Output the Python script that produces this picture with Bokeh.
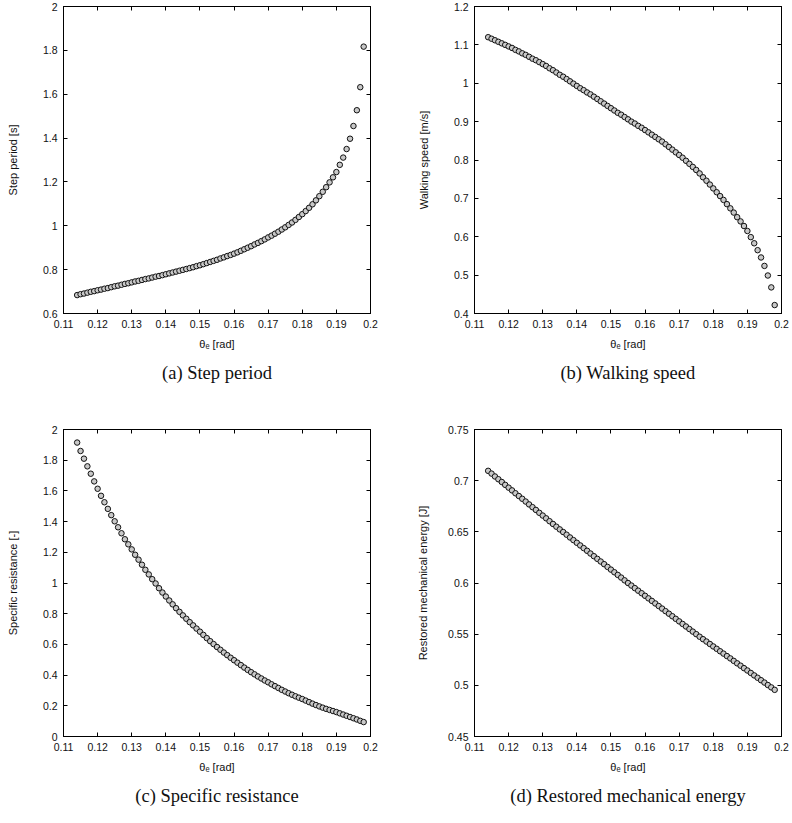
from bokeh.plotting import figure
from bokeh.models import Range1d, FixedTicker, LinearAxis, Title, CustomJSTickFormatter
from bokeh.layouts import column, row
from bokeh.embed import file_html
from bokeh.resources import INLINE

# ---------------- data ----------------
theta_e = [0.114, 0.115, 0.116, 0.117, 0.118, 0.119, 0.120, 0.121, 0.122, 0.123,
           0.124, 0.125, 0.126, 0.127, 0.128, 0.129, 0.130, 0.131, 0.132, 0.133,
           0.134, 0.135, 0.136, 0.137, 0.138, 0.139, 0.140, 0.141, 0.142, 0.143,
           0.144, 0.145, 0.146, 0.147, 0.148, 0.149, 0.150, 0.151, 0.152, 0.153,
           0.154, 0.155, 0.156, 0.157, 0.158, 0.159, 0.160, 0.161, 0.162, 0.163,
           0.164, 0.165, 0.166, 0.167, 0.168, 0.169, 0.170, 0.171, 0.172, 0.173,
           0.174, 0.175, 0.176, 0.177, 0.178, 0.179, 0.180, 0.181, 0.182, 0.183,
           0.184, 0.185, 0.186, 0.187, 0.188, 0.189, 0.190, 0.191, 0.192, 0.193,
           0.194, 0.195, 0.196, 0.197, 0.198]

step_period = [0.684, 0.688, 0.691, 0.695, 0.699, 0.702, 0.706, 0.709, 0.713, 0.716,
               0.720, 0.724, 0.727, 0.731, 0.735, 0.738, 0.742, 0.746, 0.749, 0.753,
               0.757, 0.760, 0.764, 0.768, 0.771, 0.775, 0.779, 0.783, 0.787, 0.791,
               0.795, 0.799, 0.803, 0.807, 0.811, 0.816, 0.820, 0.825, 0.830, 0.835,
               0.840, 0.845, 0.851, 0.856, 0.862, 0.867, 0.873, 0.879, 0.886, 0.893,
               0.900, 0.907, 0.915, 0.922, 0.930, 0.938, 0.947, 0.955, 0.964, 0.973,
               0.983, 0.993, 1.004, 1.015, 1.027, 1.040, 1.053, 1.067, 1.082, 1.098,
               1.116, 1.135, 1.155, 1.176, 1.198, 1.221, 1.245, 1.278, 1.311, 1.350,
               1.397, 1.455, 1.527, 1.632, 1.817]

walking_speed = [1.120, 1.116, 1.112, 1.108, 1.104, 1.100, 1.096, 1.092, 1.087, 1.083,
                 1.078, 1.074, 1.069, 1.064, 1.060, 1.055, 1.050, 1.045, 1.039, 1.034,
                 1.028, 1.022, 1.017, 1.011, 1.005, 0.999, 0.993, 0.987, 0.982, 0.976,
                 0.971, 0.965, 0.959, 0.953, 0.947, 0.941, 0.935, 0.929, 0.923, 0.918,
                 0.912, 0.906, 0.900, 0.895, 0.889, 0.884, 0.878, 0.872, 0.866, 0.860,
                 0.854, 0.848, 0.841, 0.834, 0.827, 0.820, 0.813, 0.806, 0.798, 0.790,
                 0.782, 0.774, 0.765, 0.755, 0.746, 0.736, 0.726, 0.716, 0.706, 0.696,
                 0.685, 0.674, 0.663, 0.651, 0.640, 0.628, 0.615, 0.599, 0.583, 0.565,
                 0.546, 0.524, 0.499, 0.468, 0.422]

specific_resistance = [1.915, 1.860, 1.810, 1.760, 1.712, 1.662, 1.614, 1.568, 1.526, 1.483,
                       1.442, 1.402, 1.363, 1.324, 1.285, 1.252, 1.219, 1.184, 1.152, 1.119,
                       1.086, 1.056, 1.025, 0.997, 0.966, 0.938, 0.912, 0.886, 0.861, 0.836,
                       0.812, 0.789, 0.767, 0.745, 0.724, 0.703, 0.683, 0.662, 0.641, 0.621,
                       0.602, 0.583, 0.565, 0.547, 0.530, 0.513, 0.497, 0.481, 0.465, 0.449,
                       0.434, 0.419, 0.405, 0.391, 0.378, 0.365, 0.353, 0.340, 0.328, 0.316,
                       0.304, 0.293, 0.282, 0.272, 0.262, 0.253, 0.244, 0.234, 0.224, 0.214,
                       0.205, 0.196, 0.188, 0.180, 0.173, 0.166, 0.159, 0.151, 0.143, 0.135,
                       0.127, 0.119, 0.111, 0.102, 0.094]

restored_energy = [0.7096, 0.7069, 0.7041, 0.7014, 0.6987, 0.6959, 0.6932, 0.6905, 0.6877, 0.6850,
                   0.6823, 0.6796, 0.6768, 0.6741, 0.6714, 0.6686, 0.6659, 0.6632, 0.6604, 0.6577,
                   0.6550, 0.6524, 0.6498, 0.6472, 0.6445, 0.6419, 0.6393, 0.6367, 0.6341, 0.6315,
                   0.6288, 0.6262, 0.6236, 0.6210, 0.6184, 0.6157, 0.6131, 0.6105, 0.6079, 0.6053,
                   0.6026, 0.6000, 0.5975, 0.5950, 0.5925, 0.5900, 0.5875, 0.5850, 0.5825, 0.5800,
                   0.5775, 0.5750, 0.5725, 0.5700, 0.5675, 0.5650, 0.5625, 0.5600, 0.5575, 0.5550,
                   0.5525, 0.5500, 0.5475, 0.5451, 0.5428, 0.5404, 0.5380, 0.5357, 0.5333, 0.5310,
                   0.5286, 0.5263, 0.5239, 0.5215, 0.5192, 0.5168, 0.5145, 0.5121, 0.5097, 0.5074,
                   0.5050, 0.5027, 0.5003, 0.4980, 0.4956]

x_ticks = [0.11, 0.12, 0.13, 0.14, 0.15, 0.16, 0.17, 0.18, 0.19, 0.2]
y_ticks_a = [0.6, 0.8, 1.0, 1.2, 1.4, 1.6, 1.8, 2.0]
y_ticks_b = [0.4, 0.5, 0.6, 0.7, 0.8, 0.9, 1.0, 1.1, 1.2]
y_ticks_c = [0.0, 0.2, 0.4, 0.6, 0.8, 1.0, 1.2, 1.4, 1.6, 1.8, 2.0]
y_ticks_d = [0.45, 0.5, 0.55, 0.6, 0.65, 0.7, 0.75]

x_label = "θₑ [rad]"
y_labels = ["Step period [s]", "Walking speed [m/s]",
            "Specific resistance [-]", "Restored mechanical energy [J]"]
captions = ["(a) Step period", "(b) Walking speed",
            "(c) Specific resistance", "(d) Restored mechanical energy"]

# ---------------- styling ----------------
TICK_FONT = "Liberation Sans"
TICK_SIZE = "10.5px"
FRAME = 307


def style_axis(ax, ticks, show_labels):
    ax.ticker = FixedTicker(ticks=ticks, minor_ticks=[])
    ax.major_tick_in = 4
    ax.major_tick_out = 0
    ax.minor_tick_in = 0
    ax.minor_tick_out = 0
    ax.axis_line_color = "black"
    ax.major_tick_line_color = "black"
    ax.major_label_text_font = TICK_FONT
    ax.major_label_text_color = "#111111"
    ax.axis_label_text_font = TICK_FONT
    ax.axis_label_text_font_style = "normal"
    ax.axis_label_text_font_size = "11px"
    ax.axis_label_text_color = "#111111"
    if show_labels:
        ax.formatter = CustomJSTickFormatter(
            code="return tick.toFixed(3).replace(/\\.?0+$/, '');")
        ax.major_label_text_font_size = TICK_SIZE
        ax.major_label_standoff = 6
    else:
        ax.formatter = CustomJSTickFormatter(code="return '';")
        ax.major_label_standoff = 0


def panel(y, y_range, y_ticks, y_label, caption, left, right, top, bottom,
          ylab_standoff, cap_standoff):
    p = figure(frame_width=FRAME, frame_height=FRAME,
               min_border_left=left, min_border_right=right,
               min_border_top=top, min_border_bottom=bottom,
               x_range=Range1d(0.11, 0.2), y_range=Range1d(*y_range),
               x_axis_label=x_label, y_axis_label=y_label,
               output_backend="svg", toolbar_location=None)
    p.grid.visible = False
    p.outline_line_color = "black"
    p.background_fill_color = "white"
    p.border_fill_color = "white"

    style_axis(p.xaxis[0], x_ticks, True)
    style_axis(p.yaxis[0], y_ticks, True)
    p.xaxis[0].axis_label_standoff = 7
    p.yaxis[0].axis_label_standoff = ylab_standoff

    top_ax = LinearAxis()
    style_axis(top_ax, x_ticks, False)
    p.add_layout(top_ax, "above")
    right_ax = LinearAxis()
    style_axis(right_ax, y_ticks, False)
    p.add_layout(right_ax, "right")

    p.scatter(theta_e, y, marker="circle", size=5.5, line_color="#111111",
              line_width=1, fill_color="#c8c8c8")

    p.add_layout(Title(text=caption, align="center", standoff=cap_standoff,
                       text_font="Liberation Serif", text_font_size="18.5px",
                       text_font_style="normal", text_color="#111111"), "below")
    return p


pa = panel(step_period, (0.6, 2.0), y_ticks_a, y_labels[0], captions[0],
           63, 26, 6, 98, 21, 16)
pb = panel(walking_speed, (0.4, 1.2), y_ticks_b, y_labels[1], captions[1],
           78, 11, 6, 98, 21, 16)
pc = panel(specific_resistance, (0.0, 2.0), y_ticks_c, y_labels[2], captions[2],
           63, 26, 18, 87, 21, 16)
pd = panel(restored_energy, (0.45, 0.75), y_ticks_d, y_labels[3], captions[3],
           78, 11, 18, 87, 16, 16)

layout = column(row(pa, pb, spacing=0), row(pc, pd, spacing=0), spacing=0)

open("out.html", "w").write(file_html(layout, INLINE))
